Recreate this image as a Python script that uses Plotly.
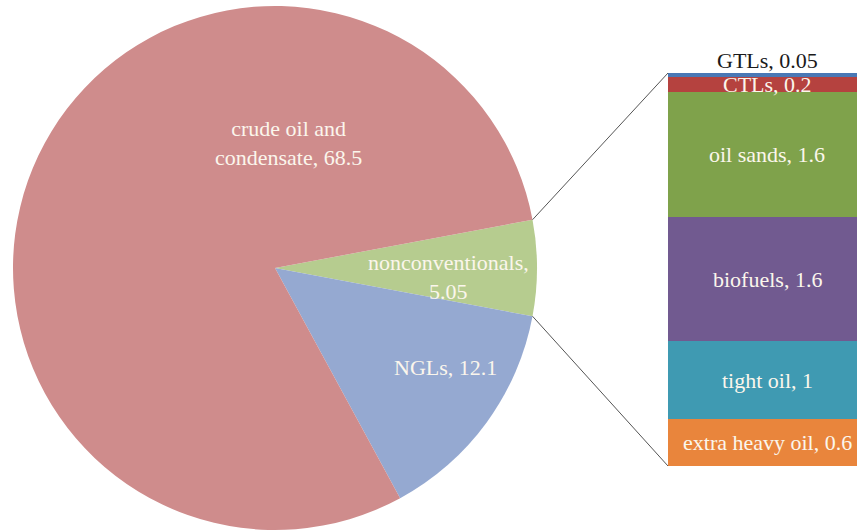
import math
import plotly.graph_objects as go

# ---- data ----
pie_labels = ["nonconventionals", "NGLs", "crude oil and condensate"]
pie_values = [5.05, 12.1, 68.5]
pie_colors = ["#B6CC8F", "#95A9D1", "#CF8C8C"]
pie_text = ["nonconventionals,<br>5.05", "NGLs, 12.1", "crude oil and<br>condensate, 68.5"]

bar_labels = ["extra heavy oil", "tight oil", "biofuels", "oil sands", "CTLs", "GTLs"]
bar_values = [0.6, 1.0, 1.6, 1.6, 0.2, 0.05]
bar_colors = ["#E9853C", "#3F9AB2", "#715A90", "#7FA24B", "#B5423F", "#4A78B5"]

W, H = 857, 531
FONT = "Liberation Serif"
FS = 22

# ---- layout geometry (pixels -> paper) ----
pie_dom_x = [13 / W, 537 / W]
pie_dom_y = [1 - 530 / H, 1 - 6 / H]
bar_left_px, bar_full_w_px = 668, 198      # bar runs past the right edge (clipped)
bar_dom_x = [bar_left_px / W, 1.0]
bar_dom_y = [1 - 466 / H, 1 - 73 / H]
vis_frac = (W - bar_left_px) / bar_full_w_px

total_pie = sum(pie_values)
half_angle = 180.0 * pie_values[0] / total_pie  # nonconventionals centred on 3 o'clock

fig = go.Figure()

fig.add_trace(go.Pie(
    labels=pie_labels, values=pie_values, sort=False, direction="clockwise",
    rotation=90 - half_angle,
    marker=dict(colors=pie_colors, line=dict(width=0)),
    textinfo="none", hoverinfo="label+value",
    domain=dict(x=pie_dom_x, y=pie_dom_y), showlegend=False,
))

total_bar = sum(bar_values)
for lab, val, col in zip(bar_labels, bar_values, bar_colors):
    fig.add_trace(go.Bar(
        x=[0], y=[val], name=lab, marker=dict(color=col, line=dict(width=0)),
        width=1, showlegend=False, hoverinfo="name+y",
    ))

LABEL_COL = "#FBF6EC"
annotations = []
# bar labels
cum = 0.0
for lab, val in zip(bar_labels, bar_values):
    mid = cum + val / 2
    if lab == "GTLs":
        annotations.append(dict(x=0.0, y=mid, xref="x", yref="y",
                                text=f"{lab}, {val:g}", showarrow=False,
                                xanchor="center", yanchor="bottom", yshift=0,
                                font=dict(family=FONT, size=FS, color="#1a1a1a")))
    else:
        annotations.append(dict(x=0.0, y=mid, xref="x", yref="y",
                                text=f"{lab}, {val:g}", showarrow=False,
                                xanchor="center", yanchor="middle",
                                font=dict(family=FONT, size=FS, color=LABEL_COL)))
    cum += val

# pie labels (placed where the reference shows them)
pie_label_pos = [(448, 277), (445, 367), (288, 143)]
for txt, (px, py) in zip(pie_text, pie_label_pos):
    annotations.append(dict(x=px / W, y=1 - py / H, xref="paper", yref="paper",
                            text=txt, showarrow=False,
                            xanchor="center", yanchor="middle",
                            font=dict(family=FONT, size=FS, color=LABEL_COL)))

# connector lines from pie slice edges to bar corners
cx = (pie_dom_x[0] + pie_dom_x[1]) / 2 * W
cy = (1 - (pie_dom_y[0] + pie_dom_y[1]) / 2) * H
r = min((pie_dom_x[1] - pie_dom_x[0]) * W, (pie_dom_y[1] - pie_dom_y[0]) * H) / 2
shapes = []
for sign, by in [(1, bar_dom_y[1]), (-1, bar_dom_y[0])]:
    ang = math.radians(sign * half_angle)
    ex = (cx + r * math.cos(ang)) / W
    ey = 1 - (cy - r * math.sin(ang)) / H
    shapes.append(dict(type="line", xref="paper", yref="paper",
                       x0=ex, y0=ey, x1=bar_dom_x[0], y1=by,
                       line=dict(color="#555555", width=1)))

fig.update_layout(
    width=W, height=H, margin=dict(l=0, r=0, t=0, b=0),
    paper_bgcolor="white", plot_bgcolor="white",
    barmode="stack", bargap=0,
    xaxis=dict(domain=bar_dom_x, range=[-0.5, -0.5 + vis_frac], visible=False, fixedrange=True),
    yaxis=dict(domain=bar_dom_y, range=[0, total_bar], visible=False, fixedrange=True),
    annotations=annotations, shapes=shapes,
    font=dict(family=FONT),
)

fig.write_html("out.html", config={"displayModeBar": False},
               post_script="document.body.style.margin='0';document.body.style.overflow='hidden';")
